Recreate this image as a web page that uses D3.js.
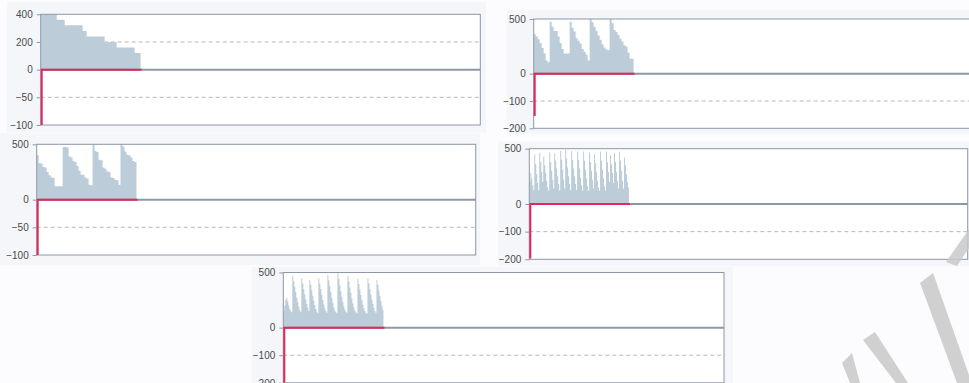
<!DOCTYPE html>
<html>
<head>
<meta charset="utf-8">
<script src="https://cdn.jsdelivr.net/npm/d3@7"></script>
<style>
  html, body { margin: 0; padding: 0; background: #fcfcfe; }
  svg { display: block; }
  text { font-family: "Liberation Sans", Arial, sans-serif; font-size: 10px; fill: #4a4a4a; }
</style>
</head>
<body>
<svg id="chart" width="969" height="383"></svg>
<script>
// ---- Run 1: stock on hand per period (step series) ----
const c1Horizon = 220;
const c1Stock = [400, 400, 400, 400, 400, 400, 400, 400,
                 360, 360, 360, 360,
                 320, 320, 320, 320, 320, 320, 320, 320, 320,
                 280, 280,
                 240, 240, 240, 240, 240, 240, 240, 240, 240,
                 200, 200, 200, 200, 200, 200,
                 160, 160, 160, 160, 160, 160, 160, 160, 160,
                 120, 120, 120];
const c1Shortage = [[0, -100], [1, 0], [50, 0]];
const c1Ticks = [400, 200, 0, -50, -100];
const c1Grid = [200, -50];

// ---- Run 2 ----
const c2Horizon = 220;
const c2Stock = [360, 340, 315, 280, 235, 185, 120, 105,
                 475, 430, 390, 390, 340, 280, 225, 185, 185, 185,
                 475, 420, 385, 325, 300, 275, 225, 200, 175, 120,
                 500, 470, 430, 390, 350, 310, 270, 240, 220, 215,
                 500, 460, 400, 380, 354, 320, 293, 260, 247, 192, 137, 137];
const c2Shortage = [[0, -155], [1, 0], [50, 0]];
const c2Ticks = [500, 0, -100, -200];
const c2Grid = [-100];

// ---- Run 3 ----
const c3Horizon = 220;
const c3Stock = [400, 330, 325, 295, 290, 250, 220, 200, 195, 120, 120, 120, 120,
                 475, 475, 470, 390, 380, 350, 340, 305, 260, 225, 225, 200, 190, 135, 130,
                 500, 440, 430, 360, 355, 290, 280, 255, 250, 200, 195, 180, 175, 135,
                 500, 480, 435, 405, 400, 380, 350, 340];
const c3Shortage = [[0, -100], [1, 0], [50, 0]];
const c3Ticks = [500, 0, -50, -100];
const c3Grid = [-50];

// ---- Run 4 ----
const c4Horizon = 440;
const c4Stock = [200, 280, 230, 170, 125, 448, 360, 270, 190, 125,
                 460, 380, 290, 200, 430, 350, 280, 210, 150, 120,
                 465, 380, 300, 220, 140, 455, 390, 320, 250, 180,
                 125, 480, 400, 310, 220, 140, 490, 410, 330, 250,
                 180, 125, 480, 400, 320, 250, 180, 125, 475, 400,
                 320, 240, 170, 120, 475, 390, 310, 230, 160, 120,
                 465, 380, 300, 220, 140, 450, 370, 290, 210, 150,
                 120, 475, 390, 310, 230, 160, 120, 475, 380, 290,
                 200, 440, 360, 280, 190, 460, 380, 290, 210, 140,
                 475, 390, 300, 210, 140, 420, 350, 270, 200, 150];
const c4Shortage = [[0, -197], [1, 0], [100, 0]];
const c4Ticks = [500, 0, -100, -200];
const c4Grid = [-100];

// ---- Run 5 ----
const c5Horizon = 440;
const c5Stock = [150, 200, 250, 270, 240, 200, 170, 150, 140, 472,
                 420, 370, 320, 270, 230, 190, 160, 140, 448, 400,
                 350, 300, 255, 215, 180, 150, 433, 390, 340, 290,
                 245, 205, 170, 145, 130, 448, 400, 350, 300, 250,
                 210, 175, 150, 135, 478, 430, 375, 320, 270, 225,
                 185, 155, 140, 130, 494, 440, 385, 330, 280, 235,
                 195, 165, 145, 135, 470, 420, 365, 315, 265, 220,
                 185, 155, 140, 130, 440, 395, 345, 295, 250, 210,
                 175, 150, 135, 125, 448, 400, 350, 300, 255, 215,
                 180, 150, 135, 433, 390, 340, 290, 245, 200, 160];
const c5Shortage = [[0, -200], [1, 0], [100, 0]];
const c5Ticks = [500, 0, -100, -200];
const c5Grid = [-100];

// Panel frames (outer box and plotting area) for the five small charts
const panels = [
  { stock: c1Stock, shortage: c1Shortage, horizon: c1Horizon, ticks: c1Ticks, grid: c1Grid,
    box: [7, 2, 479, 130.5], plot: [40.7, 14.3, 439.6, 110.7] },
  { stock: c2Stock, shortage: c2Shortage, horizon: c2Horizon, ticks: c2Ticks, grid: c2Grid,
    box: [506.7, 10, 470, 123.5], plot: [533.7, 19, 439.6, 109.3] },
  { stock: c3Stock, shortage: c3Shortage, horizon: c3Horizon, ticks: c3Ticks, grid: c3Grid,
    box: [0, 133.3, 480, 131.7], plot: [36.7, 144.3, 439, 110.7] },
  { stock: c4Stock, shortage: c4Shortage, horizon: c4Horizon, ticks: c4Ticks, grid: c4Grid,
    box: [498.3, 141.7, 475, 124.3], plot: [529.3, 148.7, 438.4, 110.6] },
  { stock: c5Stock, shortage: c5Shortage, horizon: c5Horizon, ticks: c5Ticks, grid: c5Grid,
    box: [251.7, 267, 481, 120], plot: [283.3, 272.5, 440.7, 110.3] }
];

const svg = d3.select('#chart');

panels.forEach((p, i) => {
  const [bx, by, bw, bh] = p.box;
  const [px, py, pw, ph] = p.plot;

  svg.append('rect')
    .attr('x', bx).attr('y', by).attr('width', bw).attr('height', bh)
    .attr('fill', '#f4f6fa');

  const g = svg.append('g').attr('transform', `translate(${px},${py})`);

  const x = d3.scaleLinear().domain([0, p.horizon]).range([0, pw]);
  // Piecewise scale: zero sits in the middle, positive and negative halves scaled separately
  const y = d3.scaleLinear()
    .domain([d3.min(p.ticks), 0, d3.max(p.ticks)])
    .range([ph, ph / 2, 0]);

  g.append('clipPath').attr('id', `clip${i}`)
    .append('rect').attr('width', pw).attr('height', ph);

  g.append('rect').attr('width', pw).attr('height', ph).attr('fill', '#ffffff');

  // dashed reference lines
  g.selectAll('.grid').data(p.grid).join('line')
    .attr('x1', 0).attr('x2', pw)
    .attr('y1', d => y(d)).attr('y2', d => y(d))
    .attr('stroke', '#b9b9b9').attr('stroke-width', 1)
    .attr('stroke-dasharray', '4,3');

  const plotArea = g.append('g').attr('clip-path', `url(#clip${i})`);

  // stock level as a stepped area
  const pts = p.stock.map((v, k) => [k, v]);
  pts.push([p.stock.length, p.stock[p.stock.length - 1]]);
  const area = d3.area()
    .curve(d3.curveStepAfter)
    .x(d => x(d[0]))
    .y0(y(0))
    .y1(d => y(d[1]));
  plotArea.append('path').datum(pts)
    .attr('d', area)
    .attr('fill', '#bccdd9');

  // zero baseline
  g.append('line')
    .attr('x1', 0).attr('x2', pw)
    .attr('y1', y(0)).attr('y2', y(0))
    .attr('stroke', '#8d97a5').attr('stroke-width', 2);

  // frame
  g.append('rect').attr('width', pw).attr('height', ph)
    .attr('fill', 'none').attr('stroke', '#8c97a7').attr('stroke-width', 1);

  // shortage line: drops at the first period, then stays on zero; kept just inside the frame
  const line = d3.line()
    .curve(d3.curveStepBefore)
    .x(d => x(d[0]) + 1)
    .y(d => y(d[1]));
  g.append('path').datum(p.shortage)
    .attr('d', line)
    .attr('fill', 'none')
    .attr('stroke', '#e0285a').attr('stroke-width', 2);

  // y axis ticks and labels
  const axis = d3.axisLeft(y).tickValues(p.ticks).tickSize(4).tickPadding(4)
    .tickFormat(d3.format('d'));
  const ax = g.append('g').call(axis);
  ax.select('.domain').remove();
  ax.selectAll('.tick line').attr('stroke', '#8c97a7');
  ax.selectAll('.tick text').attr('fill', '#4a4a4a')
    .style('font-family', '"Liberation Sans", Arial, sans-serif').style('font-size', '10px');
});

// faint diagonal brand strokes in the lower-right corner of the sheet
const strokes = [
  [[842, 363], [852, 353], [860, 383], [850, 383]],
  [[863, 340], [875, 332], [908, 383], [896, 383]],
  [[920, 283], [933, 273], [969, 375], [969, 383], [957, 383]],
  [[946, 262], [969, 229], [969, 248], [957, 266]]
];
svg.append('g').attr('opacity', 0.85)
  .selectAll('polygon').data(strokes).join('polygon')
  .attr('points', d => d.map(q => q.join(',')).join(' '))
  .attr('fill', '#c9c9c9');
</script>
</body>
</html>
